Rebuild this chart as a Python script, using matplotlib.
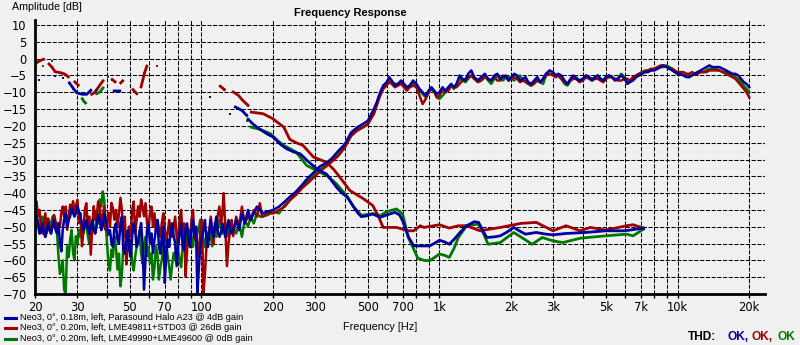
import numpy as np
import matplotlib
matplotlib.use('Agg')
import matplotlib.pyplot as plt
from matplotlib.lines import Line2D
from matplotlib.ticker import FixedLocator, FixedFormatter, NullFormatter

plt.rcParams['font.family'] = ['Liberation Sans', 'DejaVu Sans']

BLUE = '#0000a0'
RED = '#a00000'
GREEN = '#007800'
BG = '#f0f0f0'

names = ['Neo3, 0°, 0.18m, left, Parasound Halo A23 @ 4dB gain',
         'Neo3, 0°, 0.20m, left, LME49811+STD03 @ 26dB gain',
         'Neo3, 0°, 0.20m, left, LME49990+LME49600 @ 0dB gain']

# --- driver response, noisy low end (shared frequency points) ---
lf = [20, 20.6, 21.2, 21.8, 22.4, 23, 23.7, 24.4, 25.1, 25.8,
      26.5, 27.3, 28.1, 28.9, 29.7, 30.6, 31.5, 32.4, 33.3, 34.3,
      35.3, 36.3, 37.4, 38.5, 39.6, 40.7, 41.9, 43.1, 44.4, 45.7,
      47, 48.4, 49.8, 51.2, 52.7, 54.2, 55.8, 57.4, 59.1, 60.8,
      62.6, 64.4, 66.3, 68.2, 70.2, 72.2, 74.3, 76.5, 78.7, 81,
      83.4, 85.8, 88.3, 90.9, 93.5, 96.2, 99, 102, 105, 108,
      111, 114, 117, 121, 124, 128, 132, 136,
      140, 144, 148, 152, 157, 161, 166, 171, 176]
lo_blue = [-49.9, -48.4, -50.9, -51.8, -51.3, -50.9, -49.9, -50.9, -48.9, -57.3,
           -47.9, -49.9, -46.9, -45.9, -45.9, -45.4, -48.9, -49.4, -50.4, -49.9,
           -50.9, -49.9, -47.9, -49.9, -47.9, -52.3, -54.8, -50.4, -53.8, -48.9,
           -56.8, -53.8, -56.8, -52.8, -50.9, -54.8, -48.9, -68.7, -50.9, -54.8,
           -57.8, -50.9, -55.8, -52.8, -66.7, -53.8, -50.9, -52.8, -61.7, -51.8,
           -55.8, -50.9, -53.8, -50.9, -52.8, -69.7, -55.8, -50.9, -53.8, -51.8,
           -50.9, -49.9, -50.9, -51.8, -50.9, -50.4, -50.9, -50.9,
           -48, -51, -46, -49, -45, -48, -46, -44, -45]
lo_red = [-43.9, -46.9, -49.9, -48.9, -51.8, -49.9, -49.4, -48.4, -48.9, -45.9,
          -46.9, -50.9, -43.4, -42.4, -43.9, -48.9, -55.8, -44.9, -49.9, -58.3,
          -43.9, -46.9, -43.9, -46.9, -50.9, -45.9, -42.9, -47.9, -49.9, -41.4,
          -52.8, -61.2, -49.9, -44.9, -51.8, -43.9, -41.9, -46.9, -48.9, -45.9,
          -49.9, -51.3, -50.4, -48.9, -50.9, -51.8, -50.9, -49.9, -52.8, -47.9,
          -52.8, -64.7, -50.9, -47.9, -53.8, -55.8, -50.9, -69.7, -55.8, -50.9,
          -51.8, -48.9, -46.9, -48.9, -40.0, -61.7, -50.9, -52.8,
          -47, -50, -44, -49, -47, -48, -45, -47, -43]
lo_green = [-50.9, -49.9, -48.9, -50.9, -49.9, -48.4, -46.9, -49.4, -58.8, -62.7,
            -68.7, -55.8, -53.8, -57.8, -52.8, -50.9, -49.9, -48.4, -52.3, -48.9,
            -49.9, -45.4, -41.9, -39.5, -48.9, -60.8, -56.8, -52.8, -62.7, -67.7,
            -55.8, -53.8, -56.8, -60.8, -58.8, -53.8, -57.8, -55.8, -58.8, -60.8,
            -65.7, -55.8, -65.7, -59.8, -52.8, -58.8, -65.7, -57.8, -53.8, -59.8,
            -55.8, -51.8, -53.8, -53.8, -50.9, -51.8, -47.9, -53.8, -52.8, -50.9,
            -55.8, -49.9, -50.9, -49.9, -50.9, -51.8, -48.9, -50.4,
            -52, -49, -53, -48, -50, -47, -49, -46, -47]

# in-between readings of the noisy low end
lm = [20.3, 20.9, 21.5, 22.1, 22.7, 23.35, 24.05, 24.75, 25.45, 26.15,
      26.9, 27.7, 28.5, 29.3, 30.15, 31.05, 31.95, 32.85, 33.8, 34.8,
      35.8, 36.85, 37.95, 39.05, 40.15, 41.3, 42.5, 43.75, 45.05, 46.35,
      47.7, 49.1, 50.5, 51.95, 53.45, 55, 56.6, 58.25, 59.95, 61.7,
      63.5, 65.35, 67.25, 69.2, 71.2, 73.25, 75.4, 77.6, 79.85, 82.2,
      84.6, 87.05, 89.6, 92.2, 94.85, 97.6, 100.5, 103.5, 106.5, 109.5,
      112.5, 115.5, 119, 122.5, 126, 130, 134]
lm_blue = [-47, -52, -49, -53, -49, -52, -48, -52, -55, -51,
           -46, -48, -44.5, -47, -44, -47, -51, -48, -52, -48,
           -52, -46.5, -51, -46, -50, -51, -56, -49, -55, -47,
           -58, -51, -59, -49, -56, -52, -55, -60, -49, -52,
           -54, -48, -58, -50, -58, -56, -49, -55, -56, -49,
           -57, -49, -56, -48, -50, -62, -53, -48, -56, -48,
           -53, -47, -53, -49, -53, -48, -52]
lm_red = [-42.5, -45, -52, -46, -47.5, -52, -46.5, -51, -50, -44,
          -44, -47, -46, -45.5, -42, -46, -51, -43, -47, -50,
          -48, -42.5, -49, -44, -48, -50, -44.5, -45, -46, -45,
          -47, -55, -53, -42.5, -48, -47, -44, -43, -51, -44,
          -46, -48, -53, -46, -54, -48, -53, -47, -55, -45,
          -49, -57, -54, -45, -50, -59, -48, -64, -52, -47,
          -55, -51, -44, -46, -50, -55, -48]
lm_green = [-48, -52, -47, -53, -51, -50, -47, -52, -64, -60,
            -70, -59, -51, -60, -55, -53, -52, -50, -55, -51,
            -52, -49, -44, -42, -55, -63, -59, -56, -58, -64,
            -58, -52, -55, -63, -56, -51, -61, -53, -56, -58,
            -62, -58, -62, -56, -55, -62, -61, -60, -57, -62,
            -53, -56, -51, -56, -53, -50, -51, -56, -55, -53,
            -52, -53, -48, -52, -49, -53, -51]

# --- driver response, upper part ---
hf = [180, 190, 200, 212, 224, 236, 250, 265, 280, 300,
      315, 335, 355, 375, 400, 425, 450, 475, 500, 530,
      560, 600, 630, 670, 710, 750, 800, 850, 900, 950,
      1000, 1060, 1120, 1180, 1250, 1320, 1400, 1500, 1600, 1700,
      1800, 1900, 2000, 2120, 2240, 2360, 2500, 2650, 2800, 3000,
      3150, 3350, 3550, 3750, 4000, 4250, 4500, 4750, 5000, 5300,
      5600, 6000, 6300, 6700, 7100, 7500, 8000, 8500, 9000, 9500,
      10000, 10600, 11200, 11800, 12500, 13200, 14000, 15000, 16000, 17000,
      18000, 19000, 20000]
hi_blue = [-46, -45.5, -45, -44, -42.5, -41, -39.5, -37.5, -35.5, -33.5,
           -32, -31, -29.5, -27.5, -25.5, -22, -20.5, -19.5, -18.5, -15,
           -10.5, -7, -6.5, -7.5, -7.5, -8, -7.5, -10, -9.5, -9.5,
           -10, -9.5, -7.5, -7.5, -6, -4.5, -5.5, -5.5, -6, -5,
           -6, -5, -5.5, -5, -6, -7, -6.5, -7, -4.5, -4,
           -4.5, -6.5, -6, -6, -6, -5.5, -5.5, -6, -5.5, -5.5,
           -6, -6, -7, -5.5, -4.5, -4, -3.5, -2.5, -2.5, -3.5,
           -4.5, -5, -5.5, -4.5, -3.5, -2.5, -2.5, -2.5, -3.5, -4.5,
           -5, -7, -8.5]
hi_red = [-47, -46, -46, -45, -44, -42, -40.5, -38.5, -37, -35,
          -33.5, -32, -30.5, -29, -26.5, -23, -21.5, -20.5, -19.5, -16.5,
          -11.5, -8, -7.5, -8, -8.5, -8.5, -8.5, -13.5, -10, -9.5,
          -11, -10, -8, -8.5, -6.5, -5.5, -6, -6.5, -6, -5.5,
          -6.5, -5.5, -6, -6, -6.5, -7.5, -7, -7, -5, -5,
          -5, -7, -6.5, -6, -6.5, -6, -6, -6.5, -6, -5.5,
          -6.5, -6, -6.5, -5, -4, -3.5, -3, -2, -2.5, -3,
          -4, -4, -4.5, -4.5, -4, -4, -3.5, -3.5, -4.5, -5.5,
          -7, -9, -11.5]
hi_green = [-47, -46.5, -45.5, -46, -43.5, -42, -40, -38, -36.5, -34,
            -33, -31.5, -30, -28.5, -26, -23, -21, -20.5, -19.5, -16,
            -11, -7.5, -7, -7.5, -8, -8, -8, -10.5, -10, -10,
            -12, -10, -8, -7.5, -6.5, -6, -6, -5.5, -6.5, -6,
            -6, -5.5, -6, -5.5, -6.5, -7.5, -7.5, -7, -5, -4.5,
            -5, -7.5, -6.5, -5.5, -6, -5.5, -5.5, -6, -5.5, -5.5,
            -6, -5.5, -6.5, -5, -4, -3.5, -3, -2.5, -2, -3,
            -4.5, -5, -5, -4.5, -4, -3.5, -3, -3.5, -4, -5,
            -6, -8, -10]

# in-between readings of the upper part (ripple)
mf = [545, 580, 615, 650, 690, 730, 775, 825, 875, 925,
      975, 1030, 1090, 1150, 1215, 1285, 1360, 1450, 1550, 1650,
      1750, 1850, 1950, 2060, 2180, 2300, 2430, 2575, 2725, 2900,
      3075, 3250, 3450, 3650, 3875, 4125, 4375, 4625, 4875, 5150,
      5450, 5800, 6150, 6500, 6900, 7300, 7750, 8250, 8750, 9250,
      9750, 10300, 10900, 11500, 12150, 12850, 13600, 14500, 15500, 16500,
      17500, 18500, 19500]
mid_blue = [-13, -8, -5.5, -8, -6.5, -8.5, -6.5, -9, -11, -8.5,
            -10.5, -8.5, -8.5, -8.5, -5, -6.5, -3.5, -6.5, -4.5, -6.5,
            -4.5, -5.5, -6.5, -4.5, -6.5, -5.5, -7.5, -5.5, -6, -3.5,
            -5, -5, -7.5, -5, -6.5, -5, -6.5, -5, -6.5, -5,
            -6.5, -5, -7.5, -6.5, -5, -4, -3.5, -3, -2, -3,
            -4, -4.5, -5.5, -5, -4, -3, -2, -2.5, -3, -4,
            -4.5, -6, -7.5]
mid_red = [-14, -9, -7, -8.5, -7.5, -9.5, -8, -11, -12, -9,
           -11.5, -9, -9.5, -8.5, -7.5, -6, -5, -7, -5.5, -6.5,
           -6.5, -5, -6.5, -5.5, -7, -6.5, -8, -6.5, -6, -4.5,
           -5.5, -6, -7.5, -6, -7, -5.5, -6.5, -6, -7, -5.5,
           -6, -6.5, -6, -5.5, -4.5, -4, -3, -2.5, -2, -3,
           -3.5, -4, -4.5, -4, -4.5, -4, -3.5, -3.5, -4, -5,
           -6, -8, -10]
mid_green = [-13.5, -9, -6, -7.5, -7, -9, -7.5, -9.5, -11.5, -9,
             -11.5, -11, -8.5, -9, -6, -7, -5, -6.5, -5, -7.5,
             -5, -6.5, -5.5, -6.5, -5, -7, -8, -6.5, -7.5, -4.5,
             -5.5, -6, -8, -5.5, -6.5, -5, -6, -5, -6.5, -5,
             -6, -4.5, -6.5, -6, -4.5, -3.5, -3.5, -2.5, -2.5, -2.5,
             -4, -4.5, -5, -5, -4, -4, -3, -3, -4, -4.5,
             -5.5, -7, -9]

# --- falling curves ---
fb_f = [157, 165, 176, 190, 200, 215, 228, 245, 260, 280, 300, 318, 335, 350, 370,
        390, 410, 435, 455, 470, 490, 525, 563, 600, 650, 680, 700, 740, 780, 850,
        908, 960, 1000, 1050, 1100, 1160, 1220, 1300, 1400, 1460, 1530, 1580, 1700,
        1800, 1930, 2050, 2200, 2300, 2550, 2800, 3000, 3400, 4100, 5000, 6000, 7200]
fb_db = [-18, -19.5, -21, -22.5, -23.3, -25.5, -26.8, -27.8, -28.3, -30.5, -32.3, -33.5,
         -34.3, -36, -38.3, -40, -41.2, -44, -46, -47, -46.8, -46.2, -47.2, -46.5, -45.7,
         -46.5, -48.2, -53, -55.7, -55.7, -55.7, -54.8, -54, -54.5, -55.2, -53.5, -51.7,
         -49.7, -48.5, -48.7, -51.5, -53.2, -53, -52.7, -51.5, -50.2, -51.5, -52.2, -51.7,
         -52.2, -52.4, -52, -51.7, -51.2, -51.2, -50.4]
fr_f = [162, 182, 200, 222, 235, 250, 267, 296, 335, 360, 382, 420, 480, 525, 555,
        580, 660, 740, 780, 830, 860, 1000, 1100, 1200, 1300, 1480, 1800, 2200, 2550,
        3000, 3400, 3900, 4300, 5000, 6100, 6500, 7200]
fr_db = [-15.9, -16.4, -17.9, -20.4, -24, -25, -25.8, -29.3, -30.8, -33, -35.3, -39.2,
         -41.7, -43.7, -47, -50.2, -50.2, -51.2, -51.2, -49.7, -50.2, -49.4, -50.4, -49.7,
         -49.7, -51.2, -50.2, -49, -48.7, -51.2, -49.7, -51.2, -50.2, -51, -49.7, -49.4,
         -50.4]
fg_f = [162, 176, 195, 210, 222, 250, 277, 300, 315, 340, 370, 410, 435, 470, 525,
        563, 600, 660, 700, 740, 780, 810, 860, 908, 960, 1000, 1050, 1100, 1150, 1200,
        1300, 1460, 1530, 1600, 1800, 2050, 2250, 2450, 2700, 3000, 3300, 3900, 5000,
        6100, 6500, 7200]
fg_db = [-20.4, -21, -22.3, -24.5, -25.8, -27.8, -31.8, -33, -33.8, -35, -37.3, -41,
         -44, -46.6, -46.1, -46.7, -45.5, -44.7, -46.2, -53.2, -56.7, -59.3, -60, -60.1,
         -59, -58.1, -58.5, -59.1, -56.5, -53.2, -49.7, -49.2, -52, -55.2, -54.7, -51.7,
         -53.5, -55.2, -53.2, -54.2, -54.7, -53.4, -52.7, -52.2, -52.7, -50.7]

# scattered low-frequency fragments (None = gap)
db_f = [20.8, None, 24.3, None, 26.1, None, 27.9, 29, 30, 31.6, 33, 34.3, None, 36, None,
        43, 45.4, None, 109, None, 132, None, 139, 148, 155]
db_db = [-6.4, None, -5.2, None, -5.7, None, -7.2, -8.9, -10.2, -10.6, -10.6, -9.4, None,
         -9.2, None, -9.6, -9.6, None, -11.5, None, -16.4, None, -14.4, -15.4, -16.9]
dr_f = [20.2, 20.6, 21.3, 21.7, None, 22.9, 23.5, 24.3, 25.7, 26.7, 27.6, None, 29.4, 30.4,
        None, 34.6, 35.8, 37, 38.6, None, 42.2, 43.4, None, 45.8, 46.7, None, 51.6, 53.5,
        None, 55.8, 57.6, 59, None, 65, None, 120, 125, None, 136, 143, 149, 157]
dr_db = [-1.4, -0.9, -0.4, -0.2, None, -1.6, -2.4, -3.9, -4.2, -4.6, -5.4, None, -6.9, -7.9,
         None, -10.6, -9.9, -8.4, -6.6, None, -6.2, -6.9, None, -7.2, -6.6, None, -9.2, -10.4,
         None, -8.4, -4.4, -2.2, None, -2.2, None, -8.2, -9.2, None, -9.9, -10.9, -12.4, -13.9]
dg_f = [21.7, None, 23.5, None, 31.6, 32.1, 32.6, None, 36.3, 37.5, 38.6, None, 40.4,
        None, 155]
dg_db = [-2.2, None, -0.6, None, -11.9, -12.7, -13.2, None, -10.4, -9.9, -8.7, None, -5.4,
         None, -18.4]

major = [20, 30, 50, 70, 100, 200, 300, 500, 700, 1000, 2000, 3000, 5000, 7000, 10000, 20000]
major_lab = ['20', '30', '50', '70', '100', '200', '300', '500', '700', '1k', '2k', '3k',
             '5k', '7k', '10k', '20k']
minor = [40, 60, 80, 90, 400, 600, 800, 900, 4000, 6000, 8000, 9000]

fig = plt.figure(figsize=(8, 3.45), dpi=100, facecolor=BG)
ax = fig.add_axes([35 / 800, 51 / 345, 730 / 800, 274 / 345])
ax.set_facecolor(BG)

curves = [(GREEN, lo_green, lm_green, hi_green, mid_green, fg_f, fg_db, dg_f, dg_db),
          (RED, lo_red, lm_red, hi_red, mid_red, fr_f, fr_db, dr_f, dr_db),
          (BLUE, lo_blue, lm_blue, hi_blue, mid_blue, fb_f, fb_db, db_f, db_db)]
for col, lo, lmv, hi, mid, ff, fd, df, dd in curves:
    x = np.array(lf + lm + hf + mf, dtype=float)
    y = np.array(lo + lmv + hi + mid, dtype=float)
    order = np.argsort(x)
    ax.plot(x[order], y[order], color=col, lw=1.8)
    ax.plot(ff, fd, color=col, lw=2)
    ax.plot(np.array(df, dtype=float), np.array(dd, dtype=float), color=col, lw=2,
            marker='s', ms=2, mew=0)

ax.set_xscale('log')
ax.set_xlim(20, 23300)
ax.set_ylim(-70, 11.5)
ax.xaxis.set_major_locator(FixedLocator(major))
ax.xaxis.set_major_formatter(FixedFormatter(major_lab))
ax.xaxis.set_minor_locator(FixedLocator(minor))
ax.xaxis.set_minor_formatter(NullFormatter())
ax.set_yticks(np.arange(-70, 11, 5))
ax.grid(True, which='both', color='black', lw=0.75, linestyle=(0, (4, 1.5)))
ax.set_axisbelow(True)
ax.tick_params(axis='x', which='both', direction='out', length=3, width=1, pad=2,
               labelsize=8.3, colors='black')
ax.tick_params(axis='y', length=0, pad=6, labelsize=8.3)
for lab in ax.get_xticklabels() + ax.get_yticklabels():
    lab.set_family('DejaVu Sans')
for s in ['top', 'right']:
    ax.spines[s].set_visible(False)
for s in ['left', 'bottom']:
    ax.spines[s].set_linewidth(2)

fig.text(350 / 800, 1 - 12.5 / 345, 'Frequency Response', ha='center', va='center',
         fontsize=8, fontweight='bold')
fig.text(12 / 800, 1 - 7 / 345, 'Amplitude [dB]', ha='left', va='center', fontsize=7.7)
fig.text(380 / 800, 1 - 326.5 / 345, 'Frequency [Hz]', ha='center', va='center',
         fontsize=7.8)

for i, (name, col) in enumerate(zip(names, [BLUE, RED, GREEN])):
    yy = 1 - (317.5 + 10.5 * i) / 345
    fig.add_artist(Line2D([5 / 800, 16 / 800], [yy, yy], color=col, lw=2.2,
                          transform=fig.transFigure))
    fig.text(20 / 800, yy, name, ha='left', va='center', fontsize=6.6)

fig.text(688 / 800, 1 - 337 / 345, 'THD:', ha='left', va='center', fontsize=8.6,
         fontweight='bold')
fig.text(728 / 800, 1 - 337 / 345, 'OK,', ha='left', va='center', fontsize=8.6,
         fontweight='bold', color=BLUE)
fig.text(752 / 800, 1 - 337 / 345, 'OK,', ha='left', va='center', fontsize=8.6,
         fontweight='bold', color=RED)
fig.text(777 / 800, 1 - 337 / 345, 'OK', ha='left', va='center', fontsize=8.6,
         fontweight='bold', color=GREEN)

fig.savefig('out.png', dpi=100, facecolor=BG)
